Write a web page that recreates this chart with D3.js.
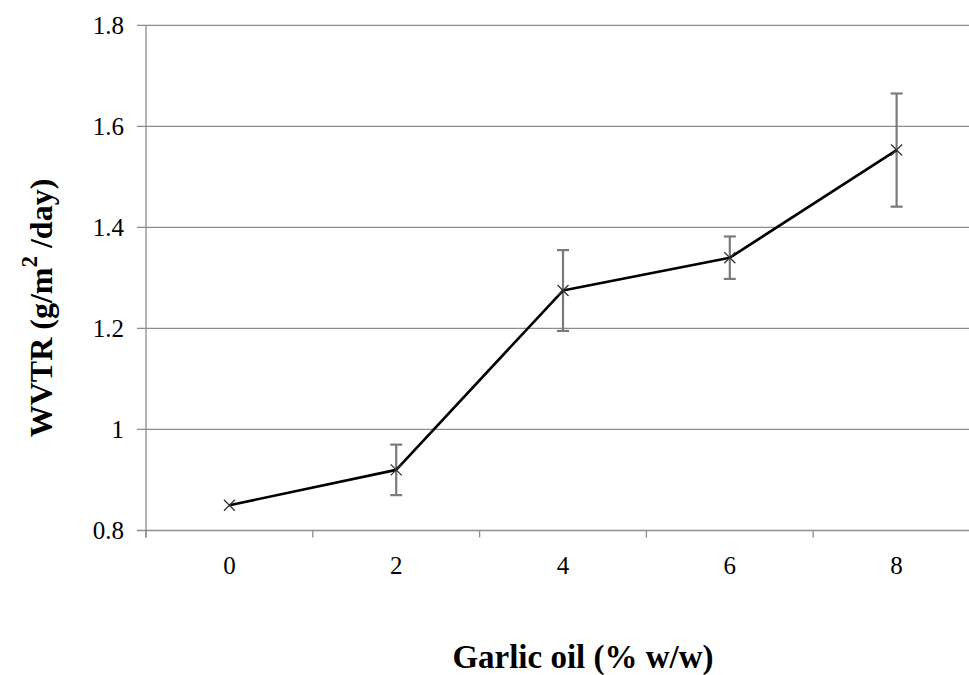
<!DOCTYPE html>
<html>
<head>
<meta charset="utf-8">
<script src="https://cdn.jsdelivr.net/npm/d3@7"></script>
<style>
  html, body { margin: 0; padding: 0; background: #fff; }
  svg { display: block; }
</style>
</head>
<body>
<svg id="chart" width="969" height="675"></svg>
<script>
// Garlic oil concentration (% w/w) and measured WVTR
const categories = ["0", "2", "4", "6", "8"];
const wvtr = [0.85, 0.92, 1.275, 1.34, 1.553];
const wvtrError = [0, 0.05, 0.08, 0.042, 0.112];
const yTicks = [0.8, 1, 1.2, 1.4, 1.6, 1.8];

const serif = "'Liberation Serif', 'Times New Roman', 'DejaVu Serif', serif";
const svg = d3.select("#chart").attr("font-family", serif);
const plot = { left: 146, right: 980, top: 25.3, bottom: 530.5 };

const x = d3.scaleBand().domain(categories).range([plot.left, plot.right]).padding(0);
const y = d3.scaleLinear().domain([0.8, 1.8]).range([plot.bottom, plot.top]);
const cx = d => x(d) + x.bandwidth() / 2;

const gridColor = "#8c8c8c";

// horizontal gridlines
svg.append("g").selectAll("line").data(yTicks).join("line")
  .attr("x1", plot.left - 9).attr("x2", 969)
  .attr("y1", d => y(d)).attr("y2", d => y(d))
  .attr("stroke", gridColor).attr("stroke-width", 1.3);

// value axis line
svg.append("line")
  .attr("x1", plot.left).attr("x2", plot.left)
  .attr("y1", plot.top).attr("y2", plot.bottom + 7)
  .attr("stroke", gridColor).attr("stroke-width", 1.3);

// category axis tick marks between categories
const boundaries = categories.map(c => x(c)).concat([plot.right]);
svg.append("g").selectAll("line").data(boundaries).join("line")
  .attr("x1", d => d).attr("x2", d => d)
  .attr("y1", plot.bottom).attr("y2", plot.bottom + 7)
  .attr("stroke", gridColor).attr("stroke-width", 1.3);

// y tick labels
svg.append("g").selectAll("text").data(yTicks).join("text")
  .attr("x", plot.left - 22).attr("y", d => y(d))
  .attr("dy", "0.35em").attr("text-anchor", "end")
  .attr("font-size", 25).attr("fill", "#000")
  .text(d => d3.format("~g")(d));

// x tick labels
svg.append("g").selectAll("text").data(categories).join("text")
  .attr("x", d => cx(d)).attr("y", plot.bottom + 43)
  .attr("text-anchor", "middle")
  .attr("font-size", 25).attr("fill", "#000")
  .text(d => d);

// error bars
const errGroup = svg.append("g").attr("stroke", "#7a7a7a").attr("stroke-width", 2.2);
categories.forEach((c, i) => {
  const e = wvtrError[i];
  if (!e) return;
  const xc = cx(c);
  errGroup.append("line").attr("x1", xc).attr("x2", xc)
    .attr("y1", y(wvtr[i] + e)).attr("y2", y(wvtr[i] - e));
  [wvtr[i] + e, wvtr[i] - e].forEach(v => {
    errGroup.append("line").attr("x1", xc - 6).attr("x2", xc + 6)
      .attr("y1", y(v)).attr("y2", y(v));
  });
});

// data line
const line = d3.line().x((d, i) => cx(categories[i])).y(d => y(d));
svg.append("path").datum(wvtr)
  .attr("d", line).attr("fill", "none")
  .attr("stroke", "#000").attr("stroke-width", 2.6)
  .attr("stroke-linejoin", "round");

// x markers
const m = 5.5;
svg.append("g").selectAll("path").data(wvtr).join("path")
  .attr("d", (d, i) => {
    const px = cx(categories[i]), py = y(d);
    return `M${px - m},${py - m}L${px + m},${py + m}M${px - m},${py + m}L${px + m},${py - m}`;
  })
  .attr("stroke", "#333").attr("stroke-width", 1.3).attr("fill", "none");

// axis titles
svg.append("text")
  .attr("x", 583).attr("y", 668)
  .attr("text-anchor", "middle").attr("font-size", 33).attr("font-weight", "bold")
  .text("Garlic oil (% w/w)");

const yTitle = svg.append("text")
  .attr("transform", "translate(52,308) rotate(-90)")
  .attr("text-anchor", "middle").attr("font-size", 32).attr("font-weight", "bold");
yTitle.append("tspan").text("WVTR (g/m");
yTitle.append("tspan").attr("dy", -15).attr("font-size", 23).text("2");
yTitle.append("tspan").attr("dy", 15).text(" /day)");
</script>
</body>
</html>
